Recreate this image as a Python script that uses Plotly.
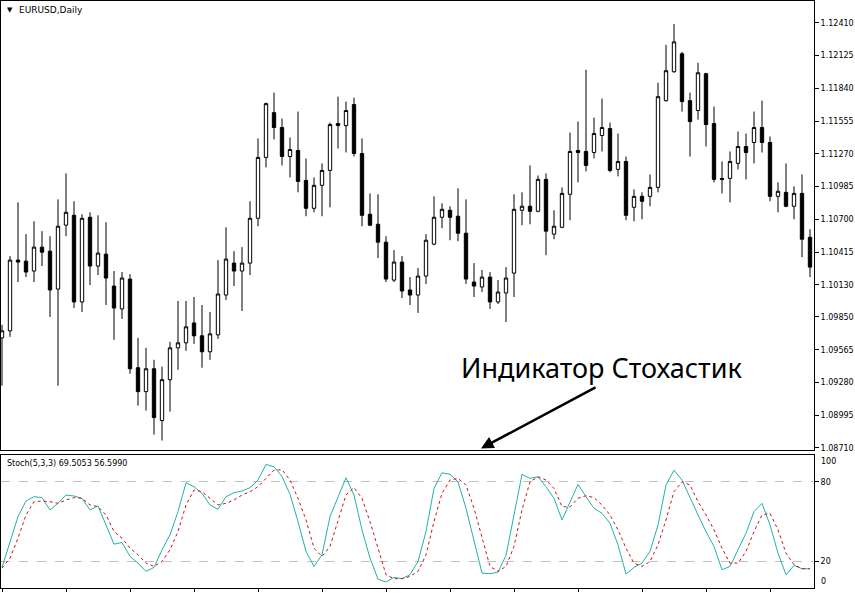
import plotly.graph_objects as go

opens = [1.09668, 1.09729, 1.10345, 1.10336, 1.10250, 1.10458, 1.10423, 1.10093, 1.10649, 1.10735,
         1.09981, 1.10718, 1.10293, 1.10397, 1.10119, 1.09920, 1.10180, 1.09408, 1.09200, 1.09399,
         1.08948, 1.09304, 1.09581, 1.09625, 1.09798, 1.09686, 1.09547, 1.09694, 1.10041, 1.10319,
         1.10250, 1.10319, 1.10709, 1.11239, 1.11629, 1.11499, 1.11247, 1.11299, 1.11039, 1.10796,
         1.10996, 1.11126, 1.11534, 1.11516, 1.11699, 1.11273, 1.10744, 1.10657, 1.10501, 1.10171,
         1.10328, 1.10085, 1.10041, 1.10206, 1.10484, 1.10718, 1.10779, 1.10727, 1.10579, 1.10154,
         1.10111, 1.10197, 1.09981, 1.10059, 1.10232, 1.10779, 1.10814, 1.10770, 1.11048, 1.10571,
         1.10631, 1.10918, 1.11299, 1.11291, 1.11282, 1.11430, 1.11490, 1.11135, 1.11204, 1.10805,
         1.10900, 1.10900, 1.10978, 1.11733, 1.11985, 1.12141, 1.11733, 1.11647, 1.11968, 1.11534,
         1.11056, 1.11056, 1.11187, 1.11334, 1.11369, 1.11499, 1.11369, 1.10900, 1.10935, 1.10814,
         1.10926, 1.10544]
highs = [1.09781, 1.10380, 1.10848, 1.10571, 1.10683, 1.10597, 1.10553, 1.10874, 1.11100, 1.10857,
         1.10744, 1.10761, 1.10735, 1.10675, 1.10250, 1.10241, 1.10223, 1.09668, 1.09581, 1.09477,
         1.09417, 1.09633, 1.09989, 1.09989, 1.10024, 1.09954, 1.09894, 1.10345, 1.10631, 1.10423,
         1.10458, 1.10857, 1.11404, 1.11716, 1.11803, 1.11577, 1.11412, 1.11638, 1.11230, 1.11065,
         1.11187, 1.11542, 1.11768, 1.11725, 1.11759, 1.11404, 1.10926, 1.10918, 1.10553, 1.10432,
         1.10380, 1.10197, 1.10276, 1.10571, 1.10900, 1.10840, 1.10814, 1.10970, 1.10874, 1.10319,
         1.10258, 1.10241, 1.10171, 1.10284, 1.10918, 1.10935, 1.11169, 1.11082, 1.11100, 1.10779,
         1.10978, 1.11456, 1.11551, 1.12002, 1.11586, 1.11751, 1.11542, 1.11447, 1.11247, 1.10961,
         1.10935, 1.11091, 1.11889, 1.12219, 1.12401, 1.12158, 1.11803, 1.12063, 1.11976, 1.11681,
         1.11204, 1.11291, 1.11464, 1.11447, 1.11638, 1.11733, 1.11421, 1.11022, 1.11187, 1.10987,
         1.11091, 1.10614]
lows = [1.09252, 1.09677, 1.10154, 1.10197, 1.10154, 1.10293, 1.09850, 1.09252, 1.10553, 1.09928,
        1.09894, 1.10128, 1.10215, 1.09954, 1.09651, 1.09833, 1.09356, 1.09078, 1.09035, 1.08826,
        1.08774, 1.09026, 1.09390, 1.09555, 1.09616, 1.09408, 1.09477, 1.09659, 1.09998, 1.10119,
        1.09902, 1.10215, 1.10640, 1.11152, 1.11395, 1.11169, 1.11065, 1.10935, 1.10727, 1.10761,
        1.10727, 1.10805, 1.11317, 1.11282, 1.11247, 1.10640, 1.10640, 1.10362, 1.10154, 1.10154,
        1.10015, 1.09954, 1.09885, 1.10137, 1.10475, 1.10623, 1.10518, 1.10510, 1.10137, 1.10024,
        1.10067, 1.09920, 1.09963, 1.09807, 1.10024, 1.10649, 1.10657, 1.10761, 1.10388, 1.10527,
        1.10623, 1.10692, 1.11022, 1.11117, 1.11230, 1.11291, 1.11109, 1.11074, 1.10692, 1.10683,
        1.10701, 1.10814, 1.10935, 1.11725, 1.11976, 1.11638, 1.11247, 1.11568, 1.11334, 1.11022,
        1.10926, 1.10848, 1.11135, 1.11048, 1.11187, 1.11282, 1.10857, 1.10761, 1.10805, 1.10701,
        1.10371, 1.10197]
closes = [1.09729, 1.10345, 1.10328, 1.10241, 1.10458, 1.10414, 1.10085, 1.10640, 1.10761, 1.09981,
          1.10709, 1.10293, 1.10406, 1.10189, 1.09928, 1.10189, 1.09399, 1.09200, 1.09399, 1.08974,
          1.09304, 1.09581, 1.09625, 1.09764, 1.09686, 1.09547, 1.09703, 1.10050, 1.10354, 1.10250,
          1.10319, 1.10709, 1.11239, 1.11707, 1.11499, 1.11247, 1.11308, 1.11030, 1.10796, 1.10996,
          1.11126, 1.11525, 1.11516, 1.11647, 1.11273, 1.10735, 1.10649, 1.10501, 1.10180, 1.10328,
          1.10076, 1.10041, 1.10206, 1.10518, 1.10718, 1.10787, 1.10718, 1.10579, 1.10180, 1.10119,
          1.10197, 1.09981, 1.10067, 1.10189, 1.10787, 1.10814, 1.10770, 1.11048, 1.10597, 1.10640,
          1.10926, 1.11291, 1.11282, 1.11169, 1.11447, 1.11499, 1.11126, 1.11204, 1.10735, 1.10900,
          1.10857, 1.10978, 1.11768, 1.11994, 1.12245, 1.11725, 1.11551, 1.11976, 1.11525, 1.11048,
          1.11048, 1.11204, 1.11334, 1.11282, 1.11499, 1.11369, 1.10900, 1.10944, 1.10814, 1.10926,
          1.10527, 1.10284]

stoch_main = [15.5, 35, 53.75, 65.5, 68.75, 68, 58.75, 63.75, 70, 69.25,
              67.5, 58.75, 61.75, 47.5, 33, 34.25, 23.75, 18.75, 12.5, 15.5,
              28.75, 40, 57.5, 79.25, 76.25, 71.25, 62.5, 59.25, 68.75, 71.75,
              73, 75.5, 81.25, 93, 91.25, 84, 70.5, 50, 27.5, 16.25,
              25, 53.75, 68.75, 83, 70, 43.75, 22.5, 6.75, 4.5, 8,
              7, 10, 20, 42.5, 75, 86.75, 85.5, 80, 60, 35,
              11.25, 10.75, 12, 24.5, 53.75, 85.5, 82.5, 83.75, 76.25, 67.5,
              51.25, 65, 78, 68.75, 60, 56.25, 48.75, 32.5, 10.5, 15.5,
              18.75, 27.5, 47.5, 77.5, 88.75, 81.25, 67.5, 55, 42.5, 31.25,
              13.75, 16.25, 28.75, 41.25, 57.5, 63.75, 47.5, 26.25, 10, 17,
              14.5, 14.5]
stoch_signal = [15, 22.5, 37.5, 55, 65, 65.5, 65, 63.75, 66.25, 68,
                67.5, 62.5, 61.25, 55, 42.5, 37.5, 30, 25, 18.75, 16.25,
                20, 28.75, 42.5, 62.5, 73.75, 72.5, 67.5, 62.5, 63.75, 66.25,
                70, 72.5, 76.25, 82.5, 88.75, 89, 81.25, 67.5, 51.25, 30,
                23.75, 31.25, 51.25, 70, 75.5, 67.5, 50, 30, 10, 7,
                7, 8.75, 12.5, 25, 50, 71.25, 81.25, 82.5, 77.5, 60,
                37.5, 16.25, 12.5, 16.25, 31.25, 58.75, 80, 83.75, 81.25, 75,
                61.25, 61, 67.5, 69.5, 68, 62.5, 55, 43.75, 30, 18.75,
                16.25, 20, 32.5, 51.25, 72.5, 80, 77.5, 65, 55, 43.75,
                30, 18.75, 18.75, 27.5, 42.5, 55, 56.25, 43.75, 26.25, 17.5,
                14.5, 14.5]

price_ticks = [1.12410, 1.12125, 1.11840, 1.11555, 1.11270, 1.10985, 1.10700,
               1.10415, 1.10130, 1.09850, 1.09565, 1.09280, 1.08995, 1.08710]
price_labels = ["1.12410", "1.12125", "1.11840", "1.11555", "1.11270", "1.10985", "1.10700",
                "1.10415", "1.10130", "1.09850", "1.09565", "1.09280", "1.08995", "1.08710"]
stoch_levels = [80, 20]
stoch_level_labels = ["80", "20"]

bars = list(range(len(opens)))
time_ticks = list(range(0, len(opens), 8))

W, H = 855, 593
def px(x):
    return x / W
def py(y):
    return 1 - y / H

fig = go.Figure()
fig.add_trace(go.Candlestick(
    x=bars, open=opens, high=highs, low=lows, close=closes,
    increasing=dict(line=dict(color="black", width=1), fillcolor="white"),
    decreasing=dict(line=dict(color="black", width=1), fillcolor="black"),
    whiskerwidth=0, hoverinfo="skip", showlegend=False,
    xaxis="x", yaxis="y"))
fig.add_trace(go.Scatter(x=bars, y=stoch_main, mode="lines",
                         line=dict(color="#20B2AA", width=1),
                         xaxis="x2", yaxis="y2", showlegend=False, hoverinfo="skip"))
fig.add_trace(go.Scatter(x=bars, y=stoch_signal, mode="lines",
                         line=dict(color="#c81414", width=1, dash="3px,3px"),
                         xaxis="x2", yaxis="y2", showlegend=False, hoverinfo="skip"))

xr = [-0.125, 101.5]
dom_x = [px(1), px(814)]
tickfont = dict(family="DejaVu Sans", size=8, color="black")

fig.update_layout(
    width=W, height=H,
    margin=dict(l=0, r=0, t=0, b=0),
    paper_bgcolor="white", plot_bgcolor="white",
    boxgap=0.4,
    xaxis=dict(domain=dom_x, range=xr, showline=True, mirror=True, linecolor="black",
               linewidth=1, showgrid=False, zeroline=False, showticklabels=False,
               ticks="", rangeslider=dict(visible=False), anchor="y"),
    yaxis=dict(domain=[py(452), py(1)], range=[1.086876, 1.126009], side="right",
               showline=True, mirror=True, linecolor="black", linewidth=1,
               showgrid=False, zeroline=False, ticks="outside", ticklen=4,
               tickcolor="black", tickvals=price_ticks, ticktext=price_labels,
               tickfont=tickfont, ticklabeloverflow="allow", anchor="x"),
    xaxis2=dict(domain=dom_x, range=xr, showline=True, mirror=True, linecolor="black",
                linewidth=1, showgrid=False, zeroline=False, showticklabels=False,
                ticks="outside", ticklen=3, tickcolor="black", tickvals=time_ticks,
                anchor="y2"),
    yaxis2=dict(domain=[py(590), py(456.7)], range=[0, 100], side="right",
                showline=True, mirror=True, linecolor="black", linewidth=1,
                showgrid=True, gridcolor="#c0c0c0", griddash="dash", gridwidth=1,
                zeroline=False, ticks="outside", ticklen=4, tickcolor="black",
                tickvals=stoch_levels, ticktext=stoch_level_labels,
                tickfont=tickfont, ticklabeloverflow="allow", anchor="x2"),
)

ann = [
    dict(x=px(5), y=py(10), text="▼", font=dict(family="DejaVu Sans", size=7, color="black")),
    dict(x=px(17), y=py(10), text="EURUSD,Daily", font=dict(family="DejaVu Sans", size=9, color="black")),
    dict(x=px(5), y=py(465), text="Stoch(5,3,3) 69.5053 56.5990",
         font=dict(family="DejaVu Sans", size=8, color="black")),
    dict(x=px(819), y=py(463), text="100", font=tickfont),
    dict(x=px(819), y=py(583), text="0", font=tickfont),
    dict(x=px(459), y=py(369), text="Индикатор Стохастик",
         font=dict(family="Noto Sans", size=27, color="black")),
]
for a in ann:
    fig.add_annotation(xref="paper", yref="paper", xanchor="left", yanchor="middle",
                       showarrow=False, **a)

fig.add_annotation(xref="paper", yref="paper", x=px(481), y=py(450),
                   ax=116, ay=-62, text="", showarrow=True, arrowhead=2,
                   arrowsize=1, arrowwidth=2.5, arrowcolor="black")

fig.write_html("out.html", config={"displayModeBar": False},
               post_script="document.body.style.margin='0';document.body.style.overflow='hidden';")
